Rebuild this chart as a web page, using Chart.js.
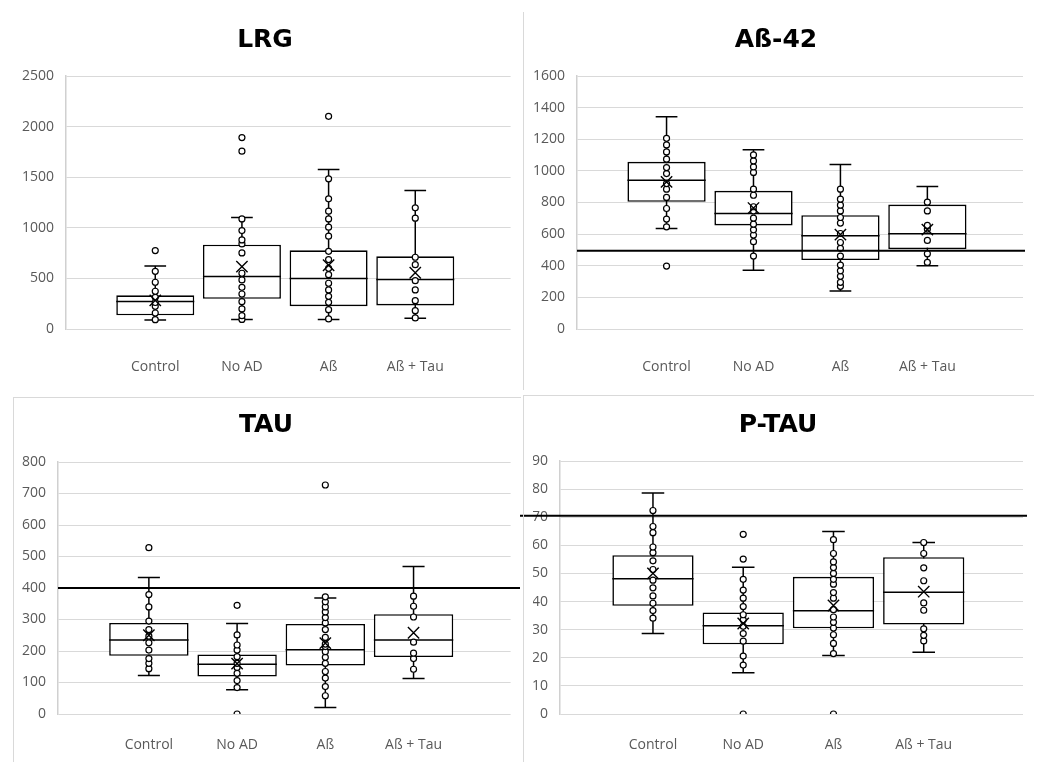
<!DOCTYPE html>
<html>
<head>
<meta charset="utf-8">
<script src="https://cdn.jsdelivr.net/npm/chart.js@4.4.1/dist/chart.umd.min.js"></script>
<style>
  body { margin: 0; background: #fff; }
  #wrap { position: relative; width: 1041px; height: 762px; overflow: hidden; background: #fff; }
  canvas { position: absolute; }
  .frame { position: absolute; border: 0 solid #d9d9d9; }
</style>
</head>
<body>
<div id="wrap">
  <canvas id="lrg" width="520" height="390" style="left:0;top:0"></canvas>
  <canvas id="ab42" width="521" height="390" style="left:520px;top:0"></canvas>
  <canvas id="tau" width="520" height="372" style="left:0;top:390px"></canvas>
  <canvas id="ptau" width="521" height="372" style="left:520px;top:390px"></canvas>
  <div class="frame" style="left:523px;top:12px;height:378px;border-left-width:1px"></div>
  <div class="frame" style="left:13px;top:397px;width:507px;height:365px;border-left-width:1px;border-top-width:1px"></div>
  <div class="frame" style="left:523px;top:395px;width:510px;height:367px;border-left-width:1px;border-top-width:1px"></div>
</div>
<script>
const categories = ["Control", "No AD", "Aß", "Aß + Tau"];

// LRG
const lrgLow = [90, 95, 95, 105];
const lrgQ1 = [135, 298, 226, 233];
const lrgMedian = [272, 520, 500, 490];
const lrgQ3 = [333, 833, 777, 718];
const lrgHigh = [623, 1103, 1577, 1369];
const lrgMean = [282, 617, 630, 556];
const lrgPoints = [
  [92, 158, 224, 262, 313, 373, 462, 570, 775],
  [95, 132, 198, 270, 346, 412, 485, 551, 752, 841, 880, 973, 1088, 1757, 1892],
  [100, 191, 264, 323, 386, 452, 537, 600, 686, 768, 917, 1006, 1088, 1164, 1286, 1484, 2102],
  [109, 181, 280, 386, 478, 636, 709, 1095, 1197]
];

// Aß-42
const abLow = [636, 371, 240, 400];
const abQ1 = [804, 655, 436, 505];
const abMedian = [941, 731, 590, 602];
const abQ3 = [1057, 874, 720, 787];
const abHigh = [1343, 1133, 1040, 901];
const abMean = [930, 765, 597, 628];
const abPoints = [
  [398, 646, 695, 762, 832, 884, 920, 983, 1021, 1074, 1120, 1164, 1206],
  [461, 552, 594, 627, 663, 701, 747, 773, 846, 884, 990, 1025, 1063, 1101],
  [270, 295, 333, 368, 404, 461, 510, 547, 604, 670, 705, 747, 783, 821, 884],
  [421, 476, 560, 632, 655, 747, 802]
];
const abCutoff = 495;

// TAU
const tauLow = [122, 77, 21, 113];
const tauQ1 = [185, 119, 154, 181];
const tauMedian = [235, 158, 204, 235];
const tauQ3 = [289, 189, 286, 317];
const tauHigh = [433, 287, 368, 468];
const tauMean = [250, 160, 225, 258];
const tauPoints = [
  [144, 161, 176, 203, 226, 247, 268, 295, 340, 379, 528],
  [0, 84, 106, 129, 148, 161, 182, 203, 219, 251, 345],
  [58, 87, 114, 135, 161, 180, 198, 214, 222, 243, 268, 289, 306, 324, 340, 356, 372, 727],
  [142, 176, 193, 228, 308, 342, 374]
];
const tauCutoff = 400;

// P-TAU
const ptLow = [28.6, 14.7, 20.8, 22.0];
const ptQ1 = [38.5, 24.8, 30.5, 31.8];
const ptMedian = [48.1, 31.4, 36.7, 43.3];
const ptQ3 = [56.5, 36.1, 48.8, 55.8];
const ptHigh = [78.6, 52.2, 64.9, 61.0];
const ptMean = [50.0, 32.2, 38.6, 43.5];
const ptPoints = [
  [34.1, 36.8, 39.4, 42.0, 44.9, 47.6, 51.4, 54.5, 57.4, 59.4, 64.5, 66.7, 72.4],
  [0, 17.4, 20.6, 25.9, 28.6, 31.2, 33.5, 35.3, 38.2, 41.2, 44.1, 47.9, 55.1, 63.9],
  [0, 21.5, 25.1, 28.2, 30.6, 32.6, 34.5, 37.1, 41.2, 43.2, 46.2, 47.9, 50, 52.1, 54.1, 57.1, 62],
  [26.0, 28.0, 30.3, 36.9, 39.5, 47.4, 52.0, 57.1, 61.0]
];
const ptCutoff = 70.5;

Chart.defaults.font.family = "'Open Sans', sans-serif";

// horizontal cut-off line, y from the scale
const refLine = {
  id: "refLine",
  afterDatasetsDraw(chart, args, opts) {
    if (opts.value == null) return;
    const y = chart.scales.y.getPixelForValue(opts.value);
    const ctx = chart.ctx;
    ctx.save();
    ctx.strokeStyle = "#000";
    ctx.lineWidth = 2;
    ctx.beginPath();
    ctx.moveTo(chart.chartArea.left - opts.extendLeft, y);
    ctx.lineTo(chart.chartArea.right + opts.extendRight, y);
    ctx.stroke();
    ctx.restore();
  }
};

function boxChart(id, title, low, q1, median, q3, high, mean, points, yMax, yStep, ref, lay) {
  const cap = 0.125;
  const half = 0.45;
  const whisker = [];
  const medianLine = [];
  const dots = [];
  categories.forEach((c, i) => {
    const x = i + 1;
    whisker.push(
      { x: x - cap, y: high[i] }, { x: x + cap, y: high[i] }, { x: x, y: null },
      { x: x, y: high[i] }, { x: x, y: low[i] }, { x: x, y: null },
      { x: x - cap, y: low[i] }, { x: x + cap, y: low[i] }, { x: x, y: null }
    );
    medianLine.push({ x: x - half, y: median[i] }, { x: x + half, y: median[i] }, { x: x, y: null });
    points[i].forEach(v => dots.push({ x: x, y: v }));
  });
  const boxes = categories.map((c, i) => ({ x: i + 1, y: [q1[i], q3[i]] }));
  const means = categories.map((c, i) => ({ x: i + 1, y: mean[i] }));
  const canvas = document.getElementById(id);
  const tickFont = { family: "'Open Sans', sans-serif", size: 14 };

  return new Chart(canvas, {
    type: "scatter",
    data: {
      datasets: [
        { type: "bar", data: boxes, backgroundColor: "#fff", borderColor: "#000", borderWidth: 1.6,
          borderSkipped: false, grouped: false, barPercentage: 0.9, categoryPercentage: 1, order: 3 },
        { data: whisker, showLine: true, spanGaps: false, borderColor: "#000", borderWidth: 1.5,
          pointRadius: 0, order: 4 },
        { data: medianLine, showLine: true, spanGaps: false, borderColor: "#000", borderWidth: 1.5,
          pointRadius: 0, order: 2 },
        { data: dots, pointStyle: "circle", pointRadius: 3, pointBackgroundColor: "#fff",
          pointBorderColor: "#000", pointBorderWidth: 1.2, order: 1 },
        { data: means, pointStyle: "crossRot", pointRadius: 8, pointBorderColor: "#000",
          pointBorderWidth: 1.4, order: 0 }
      ]
    },
    options: {
      responsive: false,
      animation: false,
      devicePixelRatio: 1,
      layout: { padding: { left: lay.padLeft, right: canvas.width - lay.right, top: 0, bottom: 0 } },
      plugins: {
        legend: { display: false },
        tooltip: { enabled: false },
        title: {
          display: true,
          text: title,
          color: "#000",
          font: { family: "'DejaVu Sans', sans-serif", size: 25, weight: "bold" },
          padding: { top: lay.titleTop, bottom: lay.top - lay.titleTop - 30 }
        },
        refLine: ref
      },
      scales: {
        x: {
          type: "linear",
          min: -0.03,
          max: 5.1,
          offset: false,
          grid: { display: false, drawTicks: false, offset: false },
          border: { display: false },
          afterBuildTicks: s => { s.ticks = categories.map((c, i) => ({ value: i + 1 })); },
          afterFit: s => { s.height = canvas.height - lay.bottom; },
          ticks: {
            callback: v => categories[Math.round(v) - 1],
            color: "#595959",
            font: tickFont,
            padding: lay.labelPad,
            maxRotation: 0,
            autoSkip: false
          }
        },
        y: {
          min: 0,
          max: yMax,
          grid: { color: "#d9d9d9", lineWidth: 1, drawTicks: false },
          border: { color: "#d0d0d0", width: 1.5 },
          afterFit: s => { s.width = lay.left - lay.padLeft; },
          ticks: { stepSize: yStep, color: "#595959", font: tickFont, padding: 12, callback: v => String(v) }
        }
      }
    },
    plugins: [refLine]
  });
}

boxChart("lrg", "LRG", lrgLow, lrgQ1, lrgMedian, lrgQ3, lrgHigh, lrgMean, lrgPoints, 2500, 500,
  { value: null },
  { padLeft: 18, left: 66, right: 512, top: 76, bottom: 329, titleTop: 25, labelPad: 30 });

boxChart("ab42", "Aß-42", abLow, abQ1, abMedian, abQ3, abHigh, abMean, abPoints, 1600, 200,
  { value: abCutoff, extendLeft: 0, extendRight: 2 },
  { padLeft: 9, left: 57, right: 503, top: 76, bottom: 329, titleTop: 25, labelPad: 30 });

boxChart("tau", "TAU", tauLow, tauQ1, tauMedian, tauQ3, tauHigh, tauMean, tauPoints, 800, 100,
  { value: tauCutoff, extendLeft: 0, extendRight: 10 },
  { padLeft: 19, left: 58, right: 513, top: 72, bottom: 324, titleTop: 20, labelPad: 23 });

boxChart("ptau", "P-TAU", ptLow, ptQ1, ptMedian, ptQ3, ptHigh, ptMean, ptPoints, 90, 10,
  { value: ptCutoff, extendLeft: 40, extendRight: 4 },
  { padLeft: 13, left: 40, right: 503, top: 71, bottom: 324, titleTop: 20, labelPad: 23 });
</script>
</body>
</html>
